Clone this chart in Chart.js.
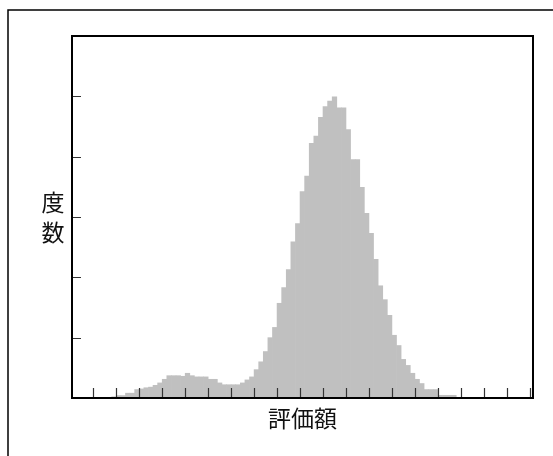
<!DOCTYPE html>
<html>
<head>
<meta charset="utf-8">
<script src="https://cdn.jsdelivr.net/npm/chart.js@4/dist/chart.umd.min.js"></script>
<style>
	body { margin: 0; background: #ffffff; }
	#wrap { position: relative; width: 553px; height: 456px; }
</style>
</head>
<body>
<div id="wrap"><canvas id="histChart"></canvas></div>
<script>
// histogram bins: bin i covers [firstBin + i, firstBin + i + 1] on the x axis
var firstBin = 4;
var freq = [
	0.02, 0.04, 0.04, 0.08, 0.08, 0.14, 0.15, 0.17, 0.18, 0.21,
	0.25, 0.31, 0.37, 0.37, 0.37, 0.36, 0.41, 0.37, 0.35, 0.35,
	0.35, 0.31, 0.31, 0.25, 0.22, 0.22, 0.22, 0.22, 0.25, 0.30,
	0.35, 0.47, 0.60, 0.77, 1.00, 1.17, 1.57, 1.83, 2.13, 2.59,
	2.89, 3.42, 3.68, 4.22, 4.34, 4.65, 4.83, 4.92, 4.99, 4.81,
	4.81, 4.45, 3.95, 3.95, 3.49, 3.06, 2.73, 2.30, 1.86, 1.63,
	1.37, 1.04, 0.87, 0.64, 0.54, 0.41, 0.31, 0.24, 0.14, 0.14,
	0.14, 0.045, 0.045, 0.045, 0.045
];
// tick marks (no labels on either axis)
var xTicks = [0, 5, 10, 15, 20, 25, 30, 35, 40, 45, 50, 55, 60, 65, 70, 75, 80, 85, 90, 95];
var yTicks = [1, 2, 3, 4, 5];
var xTitle = "評価額";
var yTitle = ["度", "数"];

var points = freq.map(function (v, i) {
	return { x: firstBin + i + 0.5, y: v };
});

var cjkFont = '23px "Noto Sans CJK JP", "Noto Sans CJK SC", sans-serif';

// draws the frames, inward tick marks and the two titles
var framePlugin = {
	id: "frame",
	afterDraw: function (chart) {
		var ctx = chart.ctx;
		var a = chart.chartArea;
		var xs = chart.scales.x;
		var ys = chart.scales.y;
		ctx.save();

		// outer frame (only top and left show in the picture)
		ctx.strokeStyle = "#000";
		ctx.lineWidth = 1.5;
		ctx.beginPath();
		ctx.moveTo(8, chart.height);
		ctx.lineTo(8, 10);
		ctx.lineTo(chart.width, 10);
		ctx.stroke();

		// tick marks pointing into the plot
		ctx.strokeStyle = "#333";
		ctx.lineWidth = 1.2;
		ctx.beginPath();
		xTicks.forEach(function (t) {
			var px = Math.round(xs.getPixelForValue(t)) + 0.5;
			ctx.moveTo(px, a.bottom);
			ctx.lineTo(px, a.bottom - 10);
		});
		yTicks.forEach(function (t) {
			var py = Math.round(ys.getPixelForValue(t)) + 0.5;
			ctx.moveTo(a.left, py);
			ctx.lineTo(a.left + 9, py);
		});
		ctx.stroke();

		// plot frame
		ctx.strokeStyle = "#000";
		ctx.lineWidth = 2;
		ctx.strokeRect(a.left, a.top, a.right - a.left, a.bottom - a.top);

		// titles
		ctx.fillStyle = "#111";
		ctx.font = cjkFont;
		ctx.textAlign = "center";
		ctx.textBaseline = "middle";
		ctx.fillText(xTitle, (a.left + a.right) / 2, a.bottom + 20);
		var midY = (a.top + a.bottom) / 2;
		ctx.fillText(yTitle[0], 53, midY - 15);
		ctx.fillText(yTitle[1], 53, midY + 15);
		ctx.restore();
	},
};

var ctx = document.getElementById("histChart").getContext("2d");
var histChart = new Chart(ctx, {
	type: "bar",
	data: {
		datasets: [
			{
				data: points,
				backgroundColor: "#c0c0c0",
				borderWidth: 0,
				barPercentage: 1,
				categoryPercentage: 1,
			},
		],
	},
	options: {
		responsive: true,
		maintainAspectRatio: false,
		animation: false,
		layout: {
			padding: { left: 72, top: 36, right: 20, bottom: 58 },
		},
		scales: {
			x: {
				type: "linear",
				display: false,
				offset: false,
				min: -4.64,
				max: 95.71,
			},
			y: {
				type: "linear",
				display: false,
				min: 0,
				max: 6,
			},
		},
		plugins: {
			legend: { display: false },
			tooltip: { enabled: false },
		},
	},
	plugins: [framePlugin],
});
</script>
</body>
</html>
